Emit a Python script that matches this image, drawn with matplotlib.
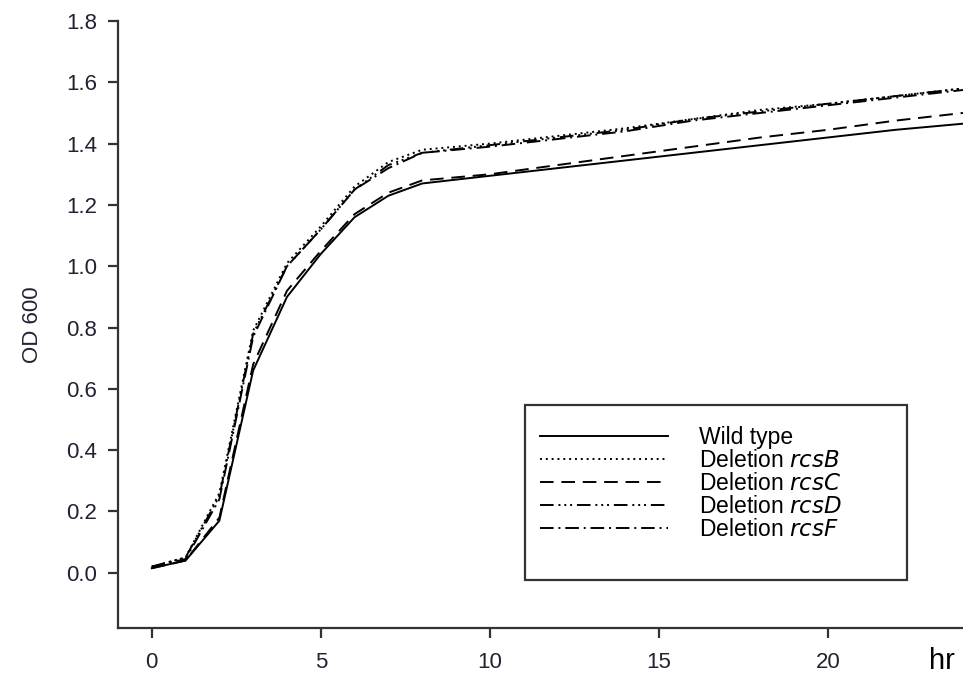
import numpy as np
import matplotlib
matplotlib.use('Agg')
import matplotlib.pyplot as plt
from matplotlib.patches import Rectangle

plt.rcParams['font.family'] = ['Liberation Sans', 'DejaVu Sans']

# growth curves, OD600
hours = [0, 1, 2, 3, 4, 5, 6, 7, 8, 10, 12, 14, 16, 18, 20, 22, 24]
wild_type = [0.015, 0.04, 0.17, 0.66, 0.90, 1.04, 1.16, 1.23, 1.27, 1.295, 1.32, 1.345, 1.37, 1.395, 1.42, 1.445, 1.465]
rcsB = [0.02, 0.05, 0.26, 0.79, 1.01, 1.13, 1.26, 1.34, 1.38, 1.40, 1.425, 1.45, 1.48, 1.51, 1.53, 1.555, 1.58]
rcsC = [0.015, 0.04, 0.18, 0.68, 0.92, 1.05, 1.17, 1.24, 1.28, 1.30, 1.33, 1.36, 1.39, 1.42, 1.445, 1.475, 1.50]
rcsD = [0.02, 0.05, 0.25, 0.78, 1.00, 1.12, 1.25, 1.33, 1.37, 1.395, 1.42, 1.445, 1.48, 1.505, 1.53, 1.555, 1.58]
rcsF = [0.02, 0.045, 0.24, 0.77, 1.00, 1.12, 1.25, 1.32, 1.37, 1.39, 1.415, 1.44, 1.475, 1.50, 1.525, 1.55, 1.575]

labels = ['Wild type', 'Deletion $\\it{rcsB}$', 'Deletion $\\it{rcsC}$',
          'Deletion $\\it{rcsD}$', 'Deletion $\\it{rcsF}$']
styles = ['-', (0, (1, 2)), (0, (7, 4)), (0, (7, 2.5, 1, 2, 1, 2, 1, 2.5)), (0, (7, 2.5, 1, 2.5))]
series = [wild_type, rcsB, rcsC, rcsD, rcsF]

fig = plt.figure(figsize=(9.63, 6.84), dpi=100)
ax = fig.add_axes([0.1225, 0.0819, 0.8775, 0.8874])

for y, lab, ls in zip(series, labels, styles):
    ax.plot(hours, y, color='black', lw=1.4, linestyle=ls, label=lab)

ax.set_xlim(-1, 24)
ax.set_ylim(-0.18, 1.8)
ax.set_xticks([0, 5, 10, 15, 20])
ax.set_yticks(np.arange(0, 1.81, 0.2))
ax.set_yticklabels(['%.1f' % v for v in np.arange(0, 1.81, 0.2)])

for s in ['top', 'right']:
    ax.spines[s].set_visible(False)
for s in ['left', 'bottom']:
    ax.spines[s].set_color('#333333')
    ax.spines[s].set_linewidth(1.6)

ax.tick_params(axis='both', direction='out', length=7, width=1.6, color='#333333',
               labelsize=16, labelcolor='#222233')
ax.tick_params(axis='x', pad=10)
ax.tick_params(axis='y', pad=8)

ax.set_ylabel('OD 600', fontsize=16, color='#222233', labelpad=17)
ax.text(0.975, -0.055, 'hr', transform=ax.transAxes, fontsize=21,
        ha='center', va='center', color='black')

# legend frame drawn separately so the box size matches
ax.add_patch(Rectangle((0.4817, 0.079), 0.4523, 0.288, transform=ax.transAxes,
                       fill=False, edgecolor='#333333', lw=1.6, zorder=5))
leg = ax.legend(loc='upper left', bbox_to_anchor=(0.499, 0.332), fontsize=16.5,
                handlelength=5.6, handletextpad=1.35, labelspacing=0.0,
                borderpad=0, borderaxespad=0, frameon=False)

plt.savefig('out.png', dpi=100)
